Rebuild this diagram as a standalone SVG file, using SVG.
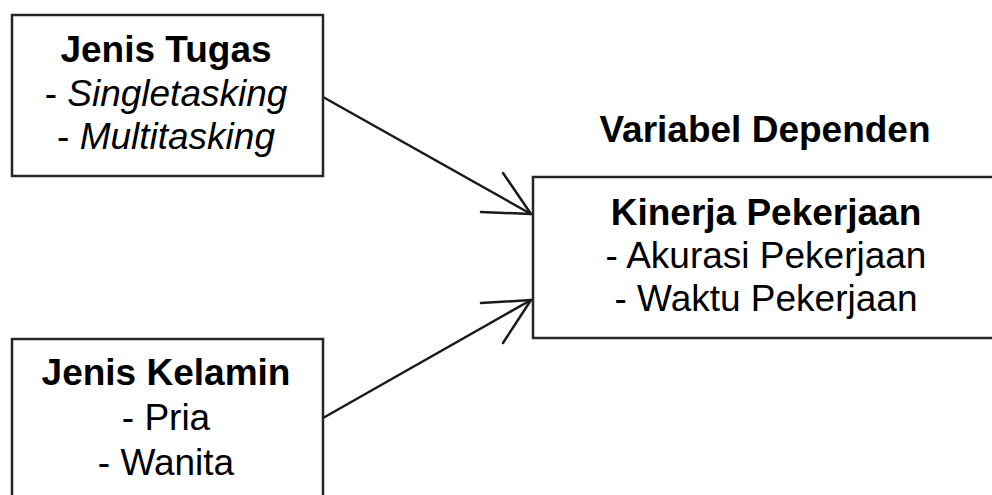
<svg xmlns="http://www.w3.org/2000/svg" width="992" height="495" viewBox="0 0 992 495">
<style>
.box{fill:#fff;stroke:#262626;stroke-width:2.5}
.t{font-family:"Liberation Sans",Arial,sans-serif;font-size:37px;fill:#000;text-anchor:middle}
.b{font-weight:bold}
.i{font-style:italic}
.c{fill:none;stroke:#1a1a1a;stroke-width:2.5;stroke-linecap:round;stroke-linejoin:round}
</style>
<rect width="992" height="495" fill="#fff"/>
<g id="connectors">
<path class="c" d="M323,97 L531,214"/>
<path class="c" d="M481,212 L531,214 L503,173"/>
<path class="c" d="M323,418 L531,300"/>
<path class="c" d="M481,303 L531,300 L503,343"/>
</g>
<g id="jenis-tugas">
<rect class="box" x="12" y="15" width="311" height="161"/>
<text class="t b" x="166" y="62">Jenis Tugas</text>
<text class="t" x="166" y="106">- <tspan class="i">Singletasking</tspan></text>
<text class="t" x="166" y="149">- <tspan class="i">Multitasking</tspan></text>
</g>
<g id="jenis-kelamin">
<rect class="box" x="12" y="339" width="311" height="170"/>
<text class="t b" x="166" y="385">Jenis Kelamin</text>
<text class="t" x="166" y="430">- Pria</text>
<text class="t" x="166" y="475">- Wanita</text>
</g>
<g id="variabel-dependen">
<text class="t b" x="765" y="142">Variabel Dependen</text>
</g>
<g id="kinerja-pekerjaan">
<rect class="box" x="533" y="177" width="467" height="161"/>
<text class="t b" x="766" y="225">Kinerja Pekerjaan</text>
<text class="t" x="766" y="268">- Akurasi Pekerjaan</text>
<text class="t" x="766" y="311">- Waktu Pekerjaan</text>
</g>
</svg>
